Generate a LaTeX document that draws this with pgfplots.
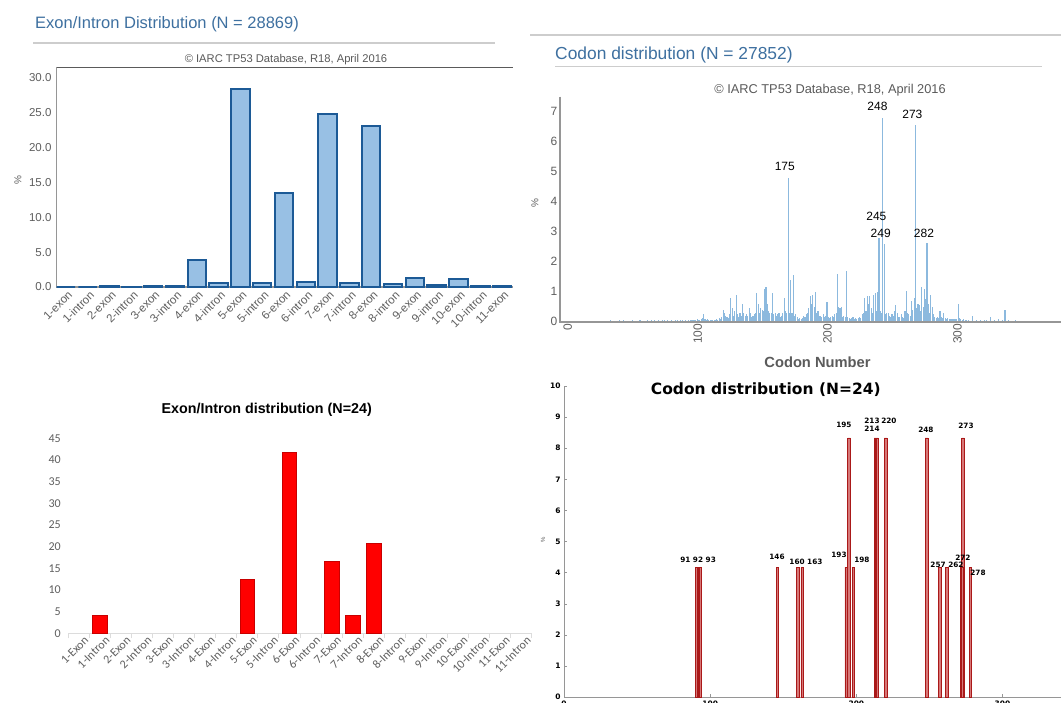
\documentclass[border=0pt]{standalone}
\usepackage{pgfplots}
\pgfplotsset{compat=1.18}
\usepackage{fontspec}
\setmainfont{Liberation Sans}
\newfontfamily\carlito{Carlito}
\newfontfamily\dejavu{DejaVu Sans}
\definecolor{ttl}{RGB}{62,112,160}
\definecolor{barfill}{RGB}{152,192,228}
\definecolor{baredge}{RGB}{28,90,150}
\definecolor{spike}{RGB}{140,185,222}
\definecolor{axgray}{RGB}{150,150,150}
\definecolor{darkax}{RGB}{90,90,90}
\definecolor{txtgray}{RGB}{95,95,95}
\definecolor{ltgray}{RGB}{205,205,205}
\definecolor{xlgray}{RGB}{220,220,220}
\definecolor{redbar}{RGB}{255,0,0}
\definecolor{rededge}{RGB}{200,0,0}
\definecolor{codfill}{RGB}{214,120,120}
\definecolor{codedge}{RGB}{170,25,25}

\begin{document}
\begin{tikzpicture}[x=1pt,y=1pt]
\path[use as bounding box] (0,0) rectangle (1061,703);
\clip (0,0) rectangle (1061,703);
\fill[white] (0,0) rectangle (1061,703);

% ---------------- Panel 1 header ----------------
\node[anchor=west, text=ttl, font=\fontsize{16.5}{19}\selectfont, inner sep=0pt] at (35,679) {Exon/Intron Distribution (N = 28869)};
\draw[ltgray, line width=1.5pt] (33,660) -- (495,660);
\node[text=darkax, font=\fontsize{11.2}{13}\selectfont, inner sep=0pt] at (286,643) {\textcopyright\ IARC TP53 Database, R18, April 2016};
\node[rotate=90, text=txtgray, font=\fontsize{10}{11}\selectfont] at (18,523) {\%};

\begin{axis}[
  at={(55pt,416pt)}, anchor=south west, scale only axis,
  width=458pt, height=220pt,
  xmin=-0.5, xmax=20.5, ymin=0, ymax=31.5,
  axis line style={draw=none},
  major tick length=0pt,
  xtick={0,...,20},
  xticklabels={1-exon,1-intron,2-exon,2-intron,3-exon,3-intron,4-exon,4-intron,5-exon,5-intron,6-exon,6-intron,7-exon,7-intron,8-exon,8-intron,9-exon,9-intron,10-exon,10-intron,11-exon},
  ytick={0,5,...,30},
  yticklabel style={/pgf/number format/fixed,/pgf/number format/fixed zerofill,/pgf/number format/precision=1},
  /pgf/number format/assume math mode=true,
  tick label style={font=\fontsize{11.5}{13}\selectfont, text=txtgray},
  xticklabel style={rotate=45, anchor=north east, inner sep=1pt, yshift=-2pt, font=\fontsize{11.5}{13}\selectfont},
  clip=false,
]
\draw[axgray, line width=1.2pt] (rel axis cs:0.004,1) -- (rel axis cs:0.004,0) -- (rel axis cs:1,0);
\draw[darkax, line width=0.8pt] (rel axis cs:0.004,1) -- (rel axis cs:1,1);
\addplot[ybar, bar width=18.5pt, fill=barfill, draw=baredge, line width=2pt] coordinates {
(0,0) (1,0) (2,0.2) (3,0.05) (4,0.1) (5,0.15) (6,3.9) (7,0.5) (8,28.4) (9,0.6)
(10,13.4) (11,0.7) (12,24.8) (13,0.5) (14,23.1) (15,0.4) (16,1.3) (17,0.3) (18,1.2) (19,0.1) (20,0.15)
};
\end{axis}

% ---------------- Panel 2 header ----------------
\draw[ltgray, line width=1.5pt] (530,668) -- (1061,668);
\node[anchor=west, text=ttl, font=\fontsize{17.4}{20}\selectfont, inner sep=0pt] at (555,648) {Codon distribution (N = 27852)};
\draw[ltgray, line width=1.5pt] (555,636.5) -- (1042,636.5);
\node[text=darkax, font=\fontsize{12.8}{15}\selectfont, inner sep=0pt] at (830,613) {\textcopyright\ IARC TP53 Database, R18, April 2016};
\node[rotate=90, text=txtgray, font=\fontsize{10}{11}\selectfont] at (535,500) {\%};
\node[font=\bfseries\fontsize{14.7}{17}\selectfont, text=darkax] at (817.5,341) {Codon Number};

\begin{axis}[
  at={(560.8pt,381.3pt)}, anchor=south west, scale only axis,
  width=500pt, height=225pt,
  xmin=0, xmax=385, ymin=0, ymax=7.5,
  axis line style={draw=none},
  major tick length=0pt,
  xtick={0,100,200,300},
  ytick={0,...,7},
  /pgf/number format/assume math mode=true,
  tick label style={font=\fontsize{12}{14}\selectfont, text=txtgray},
  xticklabel style={rotate=90, anchor=east, inner sep=2pt, yshift=-7pt},
  clip=false,
]
\addplot[ycomb, spike, line width=1.1pt] coordinates {
(5,0.01)(10,0.02)(15,0.01)(20,0.02)(25,0.03)(30,0.02)(34,0.03)(38,0.04)(42,0.03)(45,0.05)(48,0.04)(52,0.03)(55,0.04)(58,0.03)(61,0.04)(64,0.03)(67,0.04)(70,0.05)(72,0.06)(75,0.04)(78,0.05)(80,0.04)(82,0.05)(85,0.06)(88,0.05)(90,0.06)(92,0.04)(94,0.05)(96,0.06)(98,0.05)
(100,0.05)(101,0.06)(102,0.04)(103,0.05)(104,0.07)(105,0.08)(106,0.05)(107,0.06)(108,0.1)(109,0.12)
(110,0.25)(111,0.08)(112,0.06)(113,0.08)(114,0.05)(115,0.04)(116,0.04)(117,0.05)(118,0.05)(119,0.06)
(120,0.1)(121,0.06)(122,0.12)(123,0.1)(124,0.15)(125,0.4)(126,0.3)(127,0.2)(128,0.15)(129,0.12)
(130,0.25)(131,0.8)(132,0.45)(133,0.2)(134,0.35)(135,0.9)(136,0.25)(137,0.15)(138,0.3)(139,0.2)
(140,0.6)(141,0.3)(142,0.2)(143,0.25)(144,0.2)(145,0.45)(146,0.3)(147,0.15)(148,0.2)(149,0.25)
(150,0.3)(151,0.95)(152,0.6)(153,0.3)(154,0.45)(155,0.4)(156,0.35)(157,1.1)(158,1.15)(159,0.6)
(160,0.35)(161,0.3)(162,0.3)(163,0.95)(164,0.25)(165,0.3)(166,0.2)(167,0.25)(168,0.3)(169,0.15)
(170,0.2)(171,0.3)(172,0.8)(173,0.35)(174,0.3)(175,4.8)(176,0.3)(177,1.4)(178,0.3)(179,1.55)
(180,0.2)(181,0.25)(182,0.15)(183,0.1)(184,0.12)(185,0.1)(186,0.12)(187,0.2)(188,0.15)(189,0.25)
(190,0.3)(191,0.45)(192,0.85)(193,0.6)(194,0.9)(195,0.5)(196,1.0)(197,0.3)(198,0.35)(199,0.2)
(200,0.2)(201,0.15)(202,0.25)(203,0.15)(204,0.2)(205,0.65)(206,0.15)(207,0.12)(208,0.15)(209,0.2)
(210,0.15)(211,0.25)(212,0.3)(213,1.6)(214,0.5)(215,0.45)(216,0.5)(217,0.15)(218,0.2)(219,0.15)
(220,1.7)(221,0.15)(222,0.12)(223,0.1)(224,0.12)(225,0.15)(226,0.1)(227,0.12)(228,0.1)(229,0.12)
(230,0.15)(231,0.12)(232,0.25)(233,0.3)(234,0.8)(235,0.35)(236,0.85)(237,0.6)(238,0.85)(239,0.45)
(240,0.3)(241,0.9)(242,0.95)(243,0.35)(244,1.0)(245,2.8)(246,0.35)(247,0.3)(248,6.78)(249,2.6)
(250,0.25)(251,0.3)(252,0.3)(253,0.2)(254,0.15)(255,0.25)(256,0.2)(257,0.35)(258,0.55)(259,0.3)
(260,0.15)(261,0.15)(262,0.25)(263,0.15)(264,0.12)(265,0.35)(266,1.02)(267,0.3)(268,0.25)(269,0.2)
(270,0.7)(271,0.4)(272,0.8)(273,6.56)(274,0.45)(275,0.6)(276,0.55)(277,0.35)(278,1.15)(279,0.5)
(280,1.1)(281,0.75)(282,2.61)(283,0.6)(284,0.3)(285,0.9)(286,0.5)(287,0.25)(288,0.15)(289,0.12)
(290,0.15)(291,0.12)(292,0.35)(293,0.15)(294,0.12)(295,0.3)(296,0.12)(297,0.1)(298,0.12)(299,0.1)
(300,0.1)(301,0.08)(302,0.1)(303,0.08)(304,0.1)(305,0.1)(306,0.6)(307,0.12)(308,0.08)(309,0.06)
(310,0.08)(312,0.05)(314,0.06)(317,0.2)(320,0.05)(323,0.06)(326,0.05)(328,0.06)(331,0.15)(334,0.06)(337,0.1)
(340,0.05)(342,0.4)(345,0.05)(350,0.04)(355,0.03)(360,0.03)(365,0.02)(370,0.02)(375,0.02)(380,0.02)
};
\draw[axgray, line width=2pt] (rel axis cs:-0.002,1) -- (rel axis cs:-0.002,0) -- (rel axis cs:1,0);
\begin{scope}[font=\fontsize{12}{14}\selectfont, inner sep=0pt]
\node at (axis cs:172.5,5.17) {175};
\node at (axis cs:243.8,7.17) {248};
\node at (axis cs:270.7,6.92) {273};
\node at (axis cs:243,3.5) {245};
\node at (axis cs:246.3,2.95) {249};
\node at (axis cs:279.6,2.95) {282};
\end{scope}
\end{axis}

% ---------------- Panel 3 ----------------
\node[font=\bfseries\fontsize{14.3}{16}\selectfont] at (266.7,293) {Exon/Intron distribution (N=24)};
\begin{axis}[
  at={(68.2pt,69.7pt)}, anchor=south west, scale only axis,
  width=463.5pt, height=195pt,
  xmin=-0.5, xmax=21.5, ymin=0, ymax=45,
  axis line style={draw=none},
  xtick pos=left, ytick pos=left,
  major tick length=0pt,
  minor tick length=5pt,
  tick align=outside,
  minor xtick={-0.5,0.5,...,21.5},
  minor tick style={xlgray, line width=0.8pt},
  xtick={0,...,21},
  xticklabels={1-Exon,1-Intron,2-Exon,2-Intron,3-Exon,3-Intron,4-Exon,4-Intron,5-Exon,5-Intron,6-Exon,6-Intron,7-Exon,7-Intron,8-Exon,8-Intron,9-Exon,9-Intron,10-Exon,10-Intron,11-Exon,11-Intron},
  ytick={0,5,...,45},
  /pgf/number format/assume math mode=true,
  tick label style={font=\carlito\fontsize{12}{13}\selectfont, text=txtgray},
  yticklabel style={xshift=-4pt},
  xticklabel style={rotate=45, anchor=north east, inner sep=1pt, yshift=-4pt, xshift=3pt, font=\carlito\fontsize{12}{13}\selectfont},
  clip=false,
]
\draw[xlgray, line width=1pt] (rel axis cs:0,0) -- (rel axis cs:1,0);
\addplot[ybar, bar width=14.5pt, fill=redbar, draw=rededge, line width=0.5pt] coordinates {
(1,4.17) (8,12.5) (10,41.67) (12,16.67) (13,4.17) (14,20.83)
};
\end{axis}

% ---------------- Panel 4 ----------------
\node[font=\dejavu\bfseries\fontsize{15.5}{18}\selectfont] at (765.8,313) {Codon distribution (N=24)};
\node[rotate=90, font=\fontsize{6}{7}\selectfont, text=txtgray] at (543,163) {\%};
\begin{axis}[
  at={(564pt,6pt)}, anchor=south west, scale only axis,
  width=497pt, height=311pt,
  xmin=0, xmax=340, ymin=0, ymax=10,
  axis lines*=left,
  axis line style={axgray, line width=0.6pt},
  tick align=inside,
  major tick length=3pt,
  tick style={axgray},
  xtick={0,100,200,300},
  ytick={0,...,10},
  /pgf/number format/assume math mode=true,
  tick label style={font=\dejavu\bfseries\fontsize{7.5}{9}\selectfont},
  clip=false,
]
\addplot[ybar, bar width=2.6pt, fill=codfill, draw=codedge, line width=0.6pt] coordinates {
(91,4.17) (92,4.17) (93,4.17) (146,4.17) (160,4.17) (163,4.17) (193,4.17) (195,8.33) (198,4.17)
(213,8.33) (214,8.33) (220,8.33) (248,8.33) (257,4.17) (262,4.17) (272,4.17) (273,8.33) (278,4.17)
};
\begin{scope}[font=\dejavu\bfseries\fontsize{7.3}{8}\selectfont, inner sep=0pt]
\node at (axis cs:91.7,4.41) {91 92 93};
\node at (axis cs:145.7,4.50) {146};
\node at (axis cs:165.5,4.34) {160 163};
\node at (axis cs:188.1,4.57) {193};
\node at (axis cs:203.8,4.41) {198};
\node at (axis cs:191.5,8.75) {195};
\node at (axis cs:210.7,8.88) {213};
\node at (axis cs:210.7,8.62) {214};
\node at (axis cs:222.3,8.88) {220};
\node at (axis cs:247.6,8.59) {248};
\node at (axis cs:275,8.71) {273};
\node at (axis cs:262,4.24) {257 262};
\node at (axis cs:272.9,4.47) {272};
\node at (axis cs:283.2,3.99) {278};
\end{scope}
\end{axis}
\end{tikzpicture}
\end{document}
